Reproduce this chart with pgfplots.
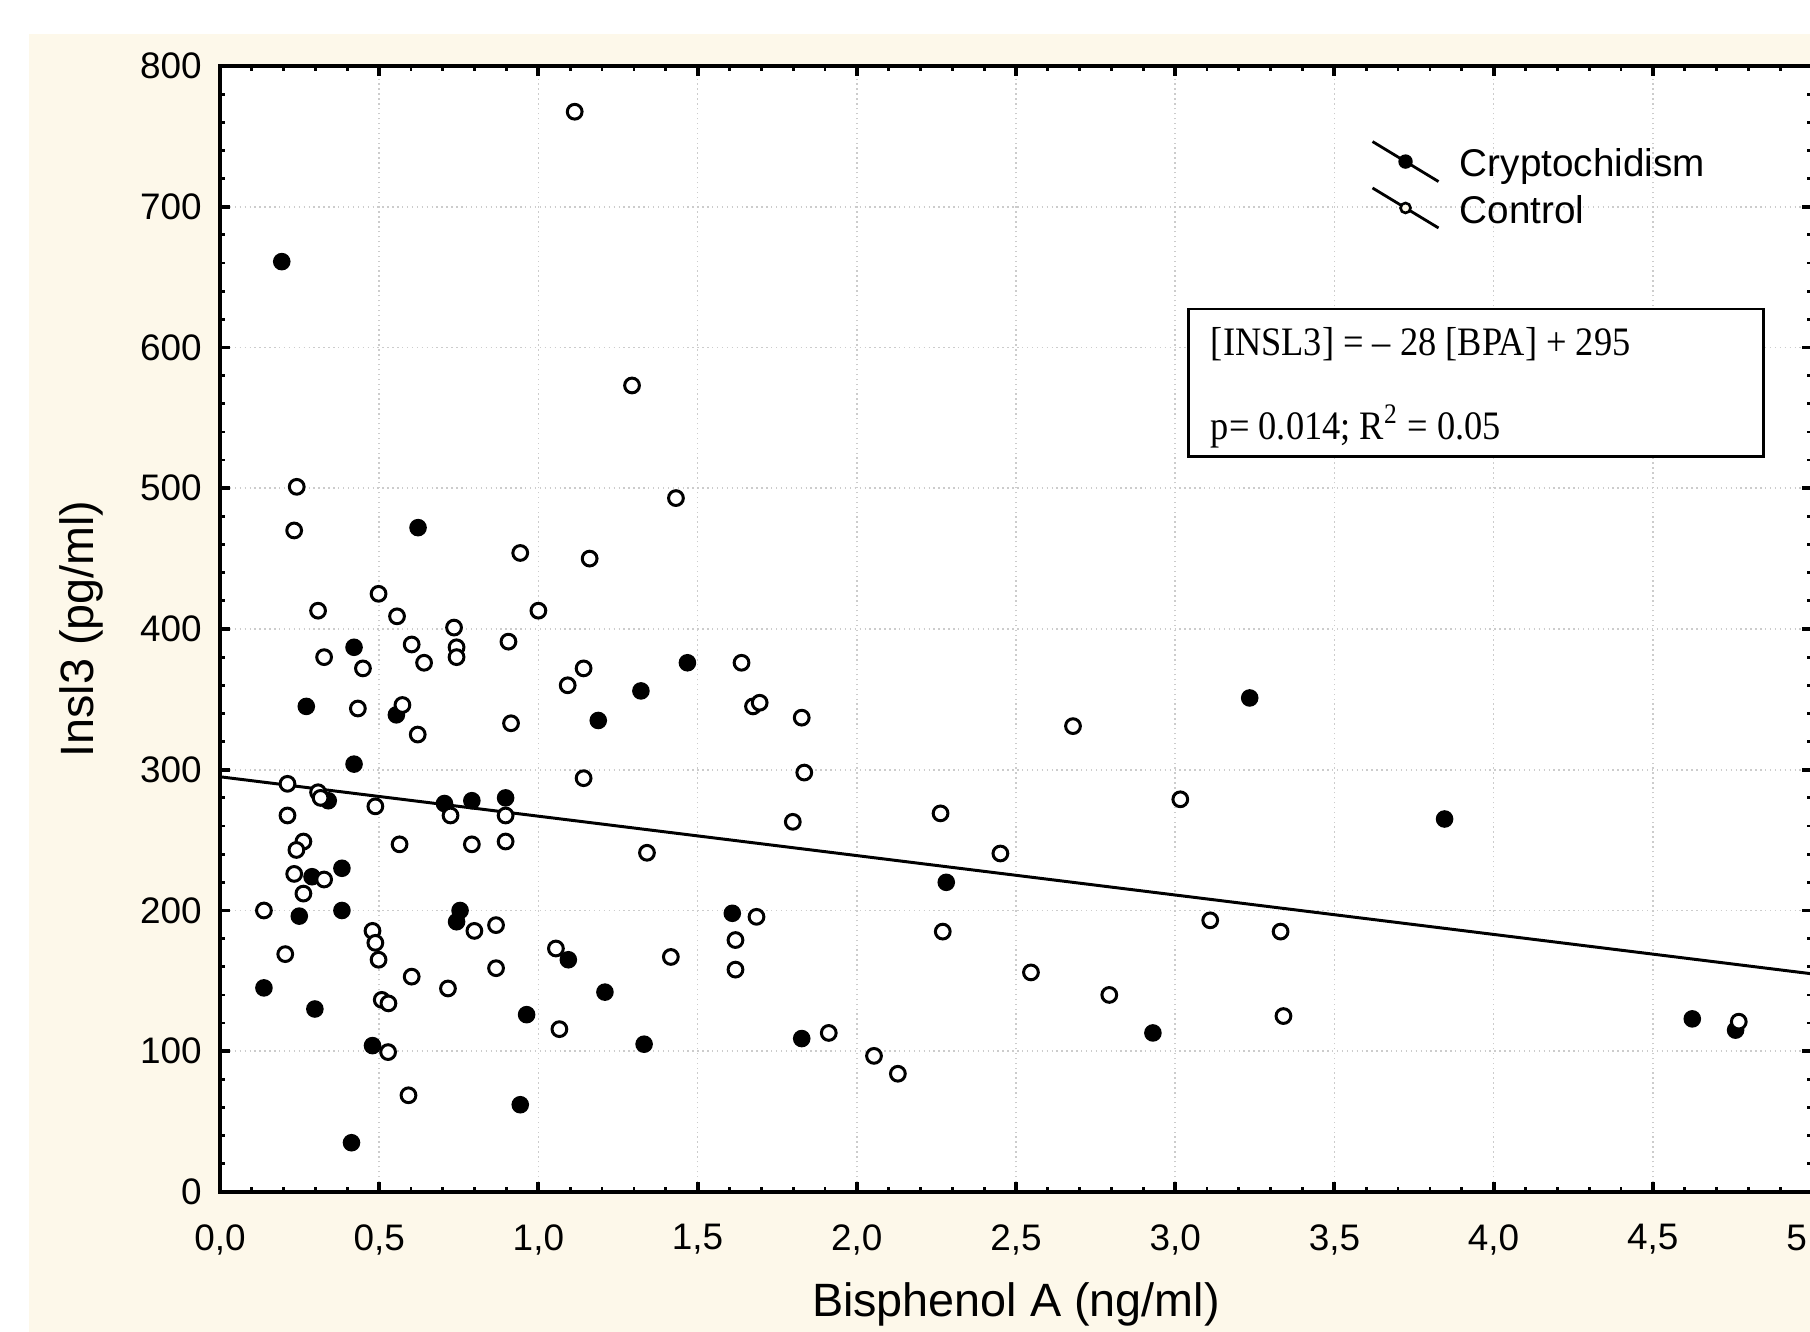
\documentclass[border=0pt]{standalone}
\usepackage{pgfplots}
\pgfplotsset{compat=1.18}
\usepackage{fontspec}
\setmainfont{Liberation Sans}
\newfontfamily\timesfont{Liberation Serif}[FakeStretch=0.9]
\definecolor{cream}{RGB}{253,248,234}
\begin{document}
\begin{tikzpicture}
\fill[cream] (-1.91,-1.45) rectangle (15.95,11.58);
\begin{axis}[
  at={(0,0)}, anchor=south west,
  scale only axis, width=15.92cm, height=11.26cm,
  xmin=0, xmax=5, ymin=0, ymax=800,
  xtick={0,0.5,1,1.5,2,2.5,3,3.5,4,4.5,5},
  ytick={0,100,200,300,400,500,600,700,800},
  minor x tick num=4, minor y tick num=4,
  axis background/.style={fill=white},
  axis line style={line width=1.2pt},
  major tick style={line width=1.1pt, black},
  minor tick style={line width=0.8pt, black},
  major tick length=0.1cm, minor tick length=0.05cm,
  tick align=inside,
  grid=major, grid style={densely dotted, black!20, line width=0.5pt},
  tick label style={font=\fontsize{10.5}{12}\selectfont},
  x tick label style={/pgf/number format/.cd, fixed, fixed zerofill, precision=1, use comma, assume math mode=true, /tikz/.cd, yshift=-0.2cm},
  y tick label style={/pgf/number format/assume math mode=true, xshift=-0.06cm},
  label style={font=\fontsize{13.3}{16}\selectfont},
  xlabel={Bisphenol A (ng/ml)},
  ylabel={Insl3 (pg/ml)},
  xlabel style={at={(axis description cs:0.5,-0.1)}, anchor=center},
  ylabel style={at={(axis description cs:-0.0873,0.5)}, anchor=center},
  legend style={at={(axis cs:3.58,752.8)}, anchor=north west, draw=none, fill=none,
    font=\fontsize{11}{13}\selectfont, row sep=-0.03cm, column sep=0.2cm, nodes={inner sep=0pt}},
  legend cell align=left,
]
\addplot[only marks, mark=*, mark size=2.3pt, black,
  legend image code/.code={\path[draw=none, fill=none] (0cm,-0.24cm) rectangle (0.66cm,0.24cm);
    \draw[black, line width=0.8pt] (0cm,0.24cm) -- (0.66cm,-0.16cm);
    \fill[black] (0.33cm,0.04cm) circle (0.065cm);}]
  table {
x y
0.194 661
0.622 472
0.421 387
1.322 356
0.271 345
0.554 339
1.188 335
0.421 304
0.340 278
0.705 276
0.791 278
0.897 280
0.383 230
0.289 224
0.249 196
0.383 200
0.754 200
0.743 192
1.094 165
0.138 145
1.209 142
0.298 130
0.963 126
1.332 105
0.479 104
0.943 62
0.413 35
1.468 376
2.281 220
1.609 198
1.827 109
3.234 351
3.846 265
2.930 113
4.624 123
4.760 115
};
\addlegendentry{Cryptochidism}
\addplot[only marks, mark=*, mark size=2.1pt, black, mark options={fill=white, line width=0.85pt},
  legend image code/.code={\path[draw=none, fill=none] (0cm,-0.24cm) rectangle (0.66cm,0.24cm);
    \draw[black, line width=0.8pt] (0cm,0.24cm) -- (0.66cm,-0.16cm);
    \draw[black, fill=cream, line width=0.75pt] (0.33cm,0.04cm) circle (0.05cm);}]
  table {
x y
0.498 425
0.308 413
0.556 409
1.000 413
0.735 401
0.602 389
0.906 391
0.327 380
0.743 387
0.743 380
0.449 372
0.641 376
1.142 372
1.092 360
0.433 343.5
0.573 346
0.914 333
0.621 325
1.142 294
0.212 290
0.308 284
0.316 280
0.488 274
0.724 267.5
0.897 267.5
0.212 267.5
0.262 249
0.240 243
0.564 247
0.791 247
0.897 249
1.341 241
0.233 226
0.327 222
0.262 212
0.138 200
0.799 185.5
0.867 189.6
0.479 185.5
0.488 177
0.498 165
0.205 169
1.055 173
1.416 167
0.867 159
0.602 153
0.716 144.6
0.508 136.5
0.529 134
1.066 115.7
0.528 99.4
0.592 68.7
1.114 767.5
1.294 573
0.241 501
0.233 470
0.943 454
1.161 450
1.432 493
1.638 376
1.674 345
1.695 347.6
1.827 337
1.835 298
1.799 263
2.263 269
2.451 240.5
2.679 331
1.685 195.5
1.619 179
1.619 158
2.270 185
2.547 156
2.793 140
1.912 113
2.054 96.7
2.129 84
3.016 279
3.110 193
3.331 185
3.340 125
4.770 121
};
\addlegendentry{Control}
\addplot[black, line width=0.85pt, forget plot] coordinates {(0,295) (5,155)};
\filldraw[draw=black, fill=white, line width=0.8pt] (axis cs:3.042,522.6) rectangle (axis cs:4.848,627.4);
\node[anchor=west, inner sep=0pt, font=\timesfont\fontsize{11.5}{13}\selectfont] at (axis cs:3.11,602.5) {[INSL3] = – 28 [BPA] + 295};
\node[anchor=west, inner sep=0pt, font=\timesfont\fontsize{11.5}{13}\selectfont] at (axis cs:3.11,544) {p= 0.014; R\textsuperscript{2} = 0.05};
\end{axis}
\pgfresetboundingbox
\path[use as bounding box] (-2.20,-1.40) rectangle (15.90,11.92);
\end{tikzpicture}
\end{document}
